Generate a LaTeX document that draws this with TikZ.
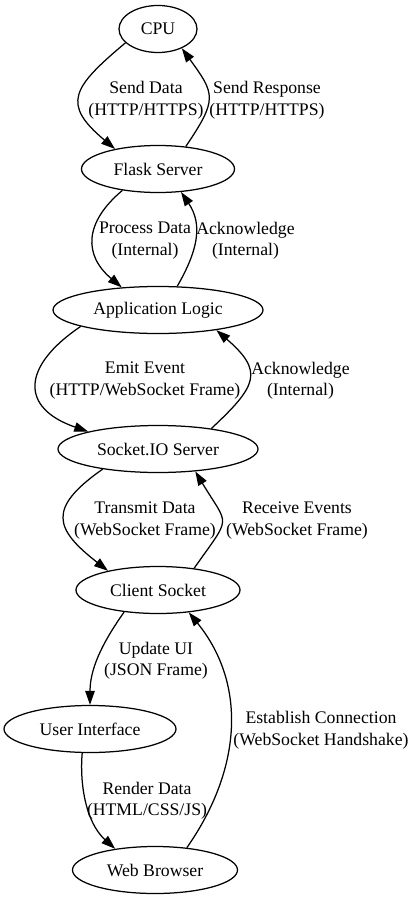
\documentclass[tikz,border=0pt]{standalone}
\usepackage{fontspec}
\setmainfont{Liberation Serif}
\usetikzlibrary{arrows.meta,shapes.geometric}

\begin{document}
\begin{tikzpicture}[x=1pt,y=1pt,font=\fontsize{17.7}{21.5}\selectfont,
  ell/.style={draw,ellipse,line width=1.25pt,minimum height=47pt,inner sep=0pt},
  lbl/.style={align=center,inner sep=0pt},
  flow/.style={-{Triangle[length=14pt,width=9.5pt]},line width=1.25pt}]
\useasboundingbox (0,0) rectangle (418,-899);
% nodes
\node[ell,minimum width=78pt] (cpu) at (158,-29) {CPU};
\node[ell,minimum width=153pt] (flask) at (158,-169) {Flask Server};
\node[ell,minimum width=210pt] (logic) at (158,-310) {Application Logic};
\node[ell,minimum width=200pt] (sio) at (158,-449) {Socket.IO Server};
\node[ell,minimum width=164pt] (client) at (158,-590) {Client Socket};
\node[ell,minimum width=172pt] (ui) at (90,-729) {User Interface};
\node[ell,minimum width=165pt] (browser) at (155,-870) {Web Browser};
% labels
\node[lbl] (senddata) at (146,-100) {Send Data\\(HTTP/HTTPS)};
\node[lbl] (sendresp) at (267,-100) {Send Response\\(HTTP/HTTPS)};
\node[lbl] (process) at (145,-240.5) {Process Data\\(Internal)};
\node[lbl] (ackflask) at (245.5,-240.5) {Acknowledge\\(Internal)};
\node[lbl] (emit) at (145,-380.5) {Emit Event\\(HTTP/WebSocket Frame)};
\node[lbl] (acklogic) at (300.5,-380.5) {Acknowledge\\(Internal)};
\node[lbl] (transmit) at (145,-520.5) {Transmit Data\\(WebSocket Frame)};
\node[lbl] (receive) at (297,-520.5) {Receive Events\\(WebSocket Frame)};
\node[lbl] (update) at (156,-660.5) {Update UI\\(JSON Frame)};
\node[lbl] (establish) at (321,-730) {Establish Connection\\(WebSocket Handshake)};
\node[lbl] (render) at (147,-800.5) {Render Data\\(HTML/CSS/JS)};
% connectors
\draw[flow] (cpu.203) to[out=220,in=140,distance=70pt] (flask.155);
\draw[flow] (flask.39) to[out=56,in=306,distance=57pt] (cpu.321);
\draw[flow] (flask.211) to[out=220,in=140,distance=50pt] (logic.148);
\draw[flow] (logic.51) to[out=60,in=304,distance=40pt] (flask.315);
\draw[flow] (logic.192) to[out=214,in=161,distance=72pt] (sio.166);
\draw[flow] (sio.21) to[out=43,in=319,distance=63pt] (logic.341);
\draw[flow] (sio.200) to[out=215,in=142,distance=68pt] (client.159);
\draw[flow] (client.31) to[out=55,in=301,distance=66pt] (sio.329);
\draw[flow] (client.213) to[out=235,in=90,out distance=30pt,in distance=40pt] (ui.90);
\draw[flow] (browser.35) to[out=55,in=309,distance=94pt] (client.324);
\draw[flow] (ui.252) to[out=265,in=138,out distance=30pt,in distance=40pt] (browser.152);
\end{tikzpicture}
\end{document}
